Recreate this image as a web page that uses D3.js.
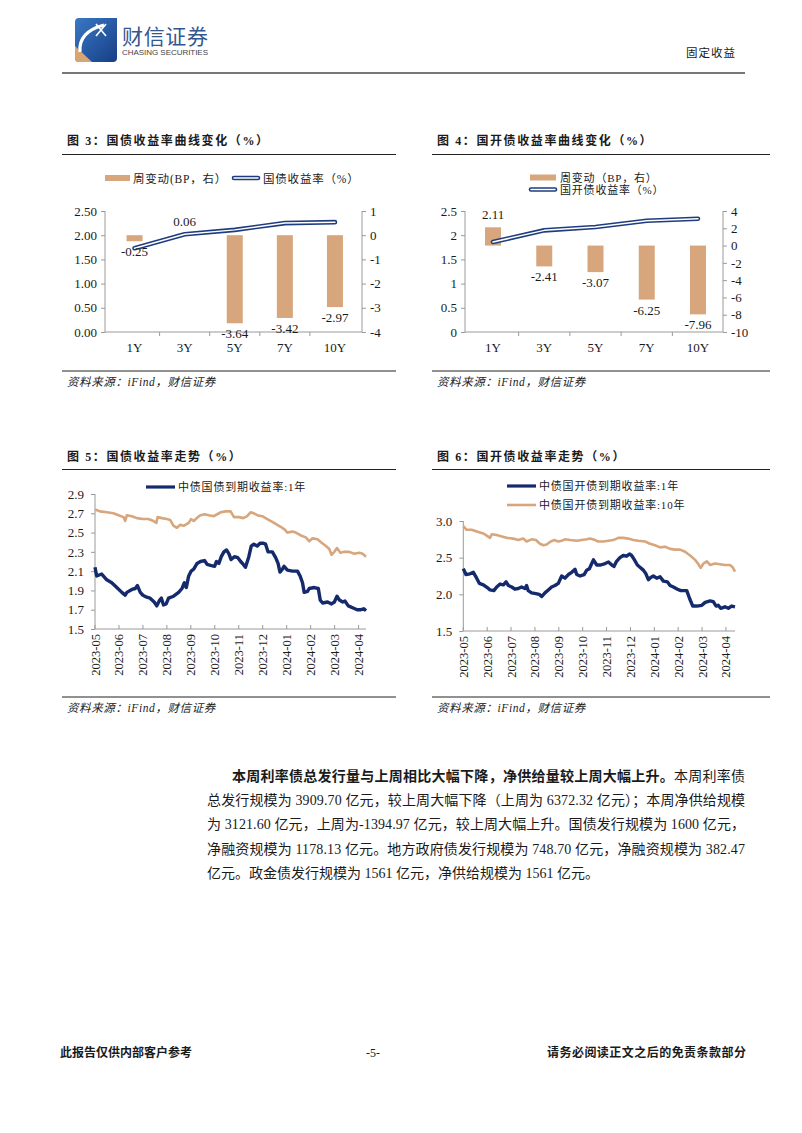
<!DOCTYPE html>
<html><head><meta charset="utf-8">
<script src="https://cdn.jsdelivr.net/npm/d3@7"></script>
<style>
body{margin:0;background:#fff;}
svg text{font-family:'Liberation Serif','Noto Sans CJK SC',serif;fill:#1a1a1a;}
</style></head><body>
<svg id="page" width="802" height="1133"></svg>
<script>
// ---------- data ----------
const curveCats = ["1Y","3Y","5Y","7Y","10Y"];
const govYield  = [1.73, 2.02, 2.11, 2.25, 2.27];
const govChange = [-0.25, 0.06, -3.64, -3.42, -2.97];
const cdbYield  = [1.86, 2.10, 2.17, 2.30, 2.34];
const cdbChange = [2.11, -2.41, -3.07, -6.25, -7.96];

const monthLabels = ["2023-05","2023-06","2023-07","2023-08","2023-09","2023-10","2023-11","2023-12","2024-01","2024-02","2024-03","2024-04"];

// [month position, yield]
const gov1Y = [[0,2.14],[0.07,2.05],[0.28,2.07],[0.49,2.01],[0.70,1.98],[0.91,1.93],[1.12,1.88],[1.26,1.85],[1.33,1.88],[1.54,1.91],[1.68,1.92],[1.77,1.95],[1.89,1.88],[2.00,1.85],[2.16,1.83],[2.30,1.82],[2.47,1.78],[2.58,1.74],[2.70,1.80],[2.77,1.82],[2.86,1.75],[2.97,1.76],[3.07,1.82],[3.28,1.84],[3.49,1.88],[3.63,1.92],[3.73,1.98],[3.81,1.93],[3.91,2.05],[4.01,2.10],[4.12,2.12],[4.26,2.18],[4.40,2.20],[4.57,2.21],[4.68,2.17],[4.82,2.16],[4.99,2.15],[5.07,2.20],[5.17,2.18],[5.27,2.25],[5.38,2.30],[5.49,2.32],[5.59,2.28],[5.68,2.22],[5.82,2.25],[5.96,2.24],[6.08,2.20],[6.19,2.17],[6.28,2.14],[6.42,2.25],[6.52,2.36],[6.63,2.38],[6.77,2.36],[6.89,2.39],[7.03,2.39],[7.12,2.38],[7.22,2.30],[7.40,2.30],[7.54,2.24],[7.64,2.18],[7.72,2.09],[7.82,2.12],[7.89,2.15],[8.03,2.11],[8.24,2.10],[8.45,2.10],[8.56,2.05],[8.66,1.98],[8.73,1.88],[8.87,1.89],[8.94,1.92],[9.15,1.93],[9.32,1.92],[9.40,1.80],[9.50,1.77],[9.71,1.78],[9.87,1.76],[9.99,1.78],[10.10,1.84],[10.20,1.80],[10.34,1.78],[10.43,1.79],[10.57,1.74],[10.75,1.72],[10.94,1.70],[11.10,1.70],[11.22,1.71],[11.31,1.69]];
const gov10Y = [[0,2.74],[0.21,2.72],[0.49,2.71],[0.77,2.70],[0.98,2.68],[1.19,2.66],[1.26,2.62],[1.33,2.68],[1.54,2.67],[1.75,2.65],[2.00,2.64],[2.23,2.64],[2.44,2.62],[2.56,2.60],[2.61,2.66],[2.79,2.65],[3.00,2.64],[3.14,2.63],[3.28,2.57],[3.42,2.55],[3.56,2.58],[3.70,2.57],[3.91,2.60],[4.01,2.64],[4.12,2.62],[4.29,2.66],[4.40,2.68],[4.57,2.69],[4.75,2.68],[4.96,2.67],[5.10,2.69],[5.24,2.71],[5.45,2.72],[5.66,2.72],[5.80,2.66],[6.01,2.66],[6.19,2.65],[6.35,2.67],[6.49,2.71],[6.63,2.70],[6.77,2.68],[6.98,2.67],[7.19,2.64],[7.40,2.61],[7.61,2.58],[7.75,2.56],[7.92,2.53],[8.03,2.50],[8.24,2.51],[8.38,2.50],[8.59,2.47],[8.80,2.45],[8.94,2.41],[9.08,2.44],[9.29,2.43],[9.43,2.40],[9.64,2.36],[9.78,2.33],[9.87,2.27],[9.99,2.30],[10.10,2.34],[10.24,2.29],[10.41,2.30],[10.61,2.30],[10.82,2.28],[11.03,2.29],[11.17,2.28],[11.31,2.25]];
const cdb1Y = [[0,2.35],[0.11,2.27],[0.28,2.28],[0.42,2.30],[0.56,2.22],[0.67,2.15],[0.84,2.13],[1.05,2.08],[1.12,2.06],[1.28,2.05],[1.40,2.10],[1.54,2.14],[1.68,2.13],[1.79,2.17],[1.89,2.12],[2.03,2.10],[2.16,2.07],[2.30,2.08],[2.44,2.10],[2.58,2.08],[2.65,2.12],[2.72,2.05],[2.86,2.02],[3.04,2.01],[3.18,2.00],[3.28,1.97],[3.42,2.02],[3.56,2.06],[3.70,2.10],[3.84,2.12],[3.98,2.15],[4.12,2.25],[4.26,2.22],[4.40,2.27],[4.54,2.30],[4.68,2.34],[4.75,2.27],[4.89,2.25],[5.06,2.27],[5.17,2.33],[5.28,2.35],[5.38,2.42],[5.45,2.47],[5.59,2.40],[5.75,2.40],[5.94,2.42],[6.08,2.44],[6.22,2.40],[6.31,2.38],[6.42,2.45],[6.56,2.50],[6.70,2.53],[6.84,2.52],[6.96,2.55],[7.05,2.53],[7.15,2.48],[7.29,2.40],[7.40,2.37],[7.54,2.33],[7.65,2.28],[7.75,2.20],[7.85,2.23],[7.96,2.25],[8.10,2.22],[8.24,2.24],[8.38,2.18],[8.55,2.17],[8.66,2.12],[8.80,2.10],[8.97,2.07],[9.11,2.05],[9.36,2.05],[9.47,1.95],[9.61,1.84],[9.78,1.84],[9.99,1.85],[10.13,1.89],[10.34,1.91],[10.47,1.90],[10.59,1.84],[10.68,1.85],[10.78,1.81],[10.96,1.83],[11.10,1.81],[11.24,1.84],[11.38,1.83]];
const cdb10Y = [[0,2.93],[0.14,2.88],[0.35,2.88],[0.63,2.85],[0.84,2.83],[0.98,2.80],[1.12,2.77],[1.19,2.82],[1.40,2.81],[1.61,2.79],[1.82,2.77],[2.09,2.76],[2.30,2.74],[2.51,2.76],[2.65,2.72],[2.86,2.75],[3.04,2.74],[3.21,2.69],[3.35,2.67],[3.49,2.68],[3.66,2.72],[3.80,2.74],[3.98,2.72],[4.12,2.73],[4.26,2.75],[4.47,2.74],[4.75,2.73],[4.96,2.74],[5.17,2.75],[5.31,2.76],[5.52,2.74],[5.66,2.72],[5.87,2.72],[6.08,2.73],[6.28,2.74],[6.49,2.77],[6.70,2.77],[6.91,2.76],[7.12,2.74],[7.33,2.73],[7.61,2.72],[7.82,2.69],[8.03,2.67],[8.24,2.64],[8.45,2.65],[8.66,2.62],[8.87,2.61],[9.08,2.61],[9.29,2.58],[9.50,2.53],[9.71,2.47],[9.85,2.41],[9.94,2.36],[10.06,2.42],[10.20,2.45],[10.34,2.40],[10.54,2.42],[10.75,2.41],[10.96,2.40],[11.17,2.40],[11.28,2.37],[11.38,2.31]];

const gov3Ticks = [0,0.5,1,1.5,2,2.5];
const gov3RTicks = [1,0,-1,-2,-3,-4];
const cdb4RTicks = [4,2,0,-2,-4,-6,-8,-10];
const gov5Ticks = [1.5,1.7,1.9,2.1,2.3,2.5,2.7,2.9];
const cdb6Ticks = [1.5,2.0,2.5,3.0];

// ---------- styles ----------
const NAVY = "#142a6c", TAN = "#d7a67c", AX = "#9a9a9a";
const svg = d3.select("#page");
svg.append("rect").attr("width",802).attr("height",1133).attr("fill","#fff");

// ---------- header ----------
const hdr = svg.append("g");
const defs = svg.append("defs");
const lg = defs.append("linearGradient").attr("id","lg").attr("x1",0).attr("y1",0).attr("x2",1).attr("y2",1);
lg.append("stop").attr("offset","0%").attr("stop-color","#3a78c4");
lg.append("stop").attr("offset","100%").attr("stop-color","#163f86");
hdr.append("path").attr("d","M79,18 H117 V58 Q117,62 113,62 H79 Q75,62 75,58 V22 Q75,18 79,18 Z").attr("fill","url(#lg)");
hdr.append("path").attr("d","M75,46 L75,58 Q75,62 79,62 L92,62 Z").attr("fill","#d9a46f");
hdr.append("path").attr("d","M80,52 Q78,32 104,25").attr("fill","none").attr("stroke","#fff").attr("stroke-width",3.2);
hdr.append("path").attr("d","M96,24 L106,36 M106,24 L96,36").attr("stroke","#fff").attr("stroke-width",1.6);
hdr.append("text").attr("x",122).attr("y",44).attr("font-size",21).style("font-family","'Noto Sans CJK SC',sans-serif").style("fill","#34578f").attr("textLength",86).text("财信证券");
hdr.append("text").attr("x",122).attr("y",55).attr("font-size",8).style("font-family","'Liberation Sans',sans-serif").style("fill","#444").attr("textLength",86).text("CHASING SECURITIES");
hdr.append("text").attr("x",686).attr("y",57).attr("font-size",11.5).style("font-family","'Noto Sans CJK SC',sans-serif").attr("letter-spacing",1).text("固定收益");
hdr.append("line").attr("x1",62).attr("x2",745).attr("y1",73).attr("y2",73).attr("stroke","#777").attr("stroke-width",2);

// ---------- helpers ----------
function title(x, y, x1, x2, ly, txt){
  svg.append("text").attr("x",x).attr("y",y).attr("font-size",12).attr("font-weight","bold").attr("letter-spacing",1.6).text(txt);
  svg.append("line").attr("x1",x1).attr("x2",x2).attr("y1",ly).attr("y2",ly).attr("stroke","#222").attr("stroke-width",1.2);
}
function source(x, y, x1, x2, ly){
  svg.append("line").attr("x1",x1).attr("x2",x2).attr("y1",ly).attr("y2",ly).attr("stroke","#222").attr("stroke-width",1);
  svg.append("text").attr("x",x).attr("y",y).attr("font-size",11.5).attr("font-style","italic").attr("letter-spacing",0.6).text("资料来源：iFind，财信证券");
}
function doubleLine(g, d){
  g.append("path").attr("d",d).attr("fill","none").attr("stroke","#1f3d7e").attr("stroke-width",4.6).attr("stroke-linecap","round").attr("stroke-linejoin","round");
  g.append("path").attr("d",d).attr("fill","none").attr("stroke","#fff").attr("stroke-width",1.5).attr("stroke-linecap","round").attr("stroke-linejoin","round");
}
function styleAxis(g){
  g.selectAll("path,line").attr("stroke",AX);
  g.selectAll("text").attr("font-size",13).style("fill","#1a1a1a");
}

function curveChart(o){
  const g = svg.append("g");
  const yTop = 211, yBot = 332;
  const x = d3.scaleBand().domain(curveCats).range([o.bx0, o.bx1]);
  const yL = d3.scaleLinear().domain([0,2.5]).range([yBot,yTop]);
  const yR = d3.scaleLinear().domain(o.rDomain).range([yBot,yTop]);
  const bw = 16;
  g.selectAll("rect.bar").data(o.change).enter().append("rect")
    .attr("x",(d,i)=>x(curveCats[i])+x.bandwidth()/2-bw/2)
    .attr("y",d=>Math.min(yR(0),yR(d)))
    .attr("width",bw).attr("height",d=>Math.abs(yR(d)-yR(0)))
    .attr("fill",TAN);
  const la = g.append("g").attr("transform",`translate(${o.ax0},0)`)
    .call(d3.axisLeft(yL).tickValues(gov3Ticks).tickFormat(o.lFmt).tickSize(4).tickSizeOuter(0).tickPadding(4));
  styleAxis(la); la.select(".domain").remove();
  la.append("line").attr("y1",yTop).attr("y2",yBot).attr("stroke",AX);
  const ra = g.append("g").attr("transform",`translate(${o.ax1},0)`)
    .call(d3.axisRight(yR).tickValues(o.rTicks).tickFormat(d=>String(d)).tickSize(4).tickSizeOuter(0).tickPadding(4));
  styleAxis(ra); ra.select(".domain").remove();
  ra.append("line").attr("y1",yTop).attr("y2",yBot).attr("stroke",AX);
  g.append("line").attr("x1",o.ax0).attr("x2",o.ax1).attr("y1",yBot).attr("y2",yBot).attr("stroke",AX);
  curveCats.slice(1).forEach(c=>{
    g.append("line").attr("x1",x(c)).attr("x2",x(c)).attr("y1",yBot).attr("y2",yBot+4).attr("stroke",AX);
  });
  g.selectAll("text.cat").data(curveCats).enter().append("text")
    .attr("x",d=>x(d)+x.bandwidth()/2).attr("y",yBot+20).attr("text-anchor","middle").attr("font-size",13).text(d=>d);
  const line = d3.line().x((d,i)=>x(curveCats[i])+x.bandwidth()/2).y(d=>yL(d));
  doubleLine(g, line(o.yields));
  g.selectAll("text.lab").data(o.change).enter().append("text")
    .attr("x",(d,i)=>x(curveCats[i])+x.bandwidth()/2)
    .attr("y",d=> d<0 ? yR(d)+15 : yR(d)-8)
    .attr("text-anchor","middle").attr("font-size",13).text(d=>d.toFixed(2));
  return g;
}

// ---------- chart 3 ----------
title(67,145,62,396,154.5,"图 3：国债收益率曲线变化（%）");
curveChart({bx0:109.5,bx1:360,ax0:105,ax1:362,rDomain:[-4,1],rTicks:gov3RTicks,lFmt:d3.format(".2f"),change:govChange,yields:govYield});
svg.append("rect").attr("x",105).attr("y",175).attr("width",25).attr("height",6).attr("fill",TAN);
svg.append("text").attr("x",133).attr("y",183).attr("font-size",11.5).attr("letter-spacing",0.8).text("周变动(BP，右）");
doubleLine(svg.append("g"),"M234,178 H258");
svg.append("text").attr("x",263).attr("y",183).attr("font-size",11.5).attr("letter-spacing",0.8).text("国债收益率（%）");
source(67,386,62,396,371);

// ---------- chart 4 ----------
title(437,145,432,770,154.5,"图 4：国开债收益率曲线变化（%）");
curveChart({bx0:467.4,bx1:723.6,ax0:465,ax1:723,rDomain:[-10,4],rTicks:cdb4RTicks,lFmt:d=>String(d),change:cdbChange,yields:cdbYield});
svg.append("rect").attr("x",530).attr("y",174.5).attr("width",26).attr("height",6).attr("fill",TAN);
svg.append("text").attr("x",560).attr("y",181.5).attr("font-size",11).attr("letter-spacing",0.8).text("周变动（BP，右）");
doubleLine(svg.append("g"),"M531,189.5 H555");
svg.append("text").attr("x",560).attr("y",194).attr("font-size",11).attr("letter-spacing",0.8).text("国开债收益率（%）");
source(437,386,432,770,371);

// ---------- line charts ----------
function trendChart(o){
  const g = svg.append("g");
  const x = d3.scaleLinear().domain([0,o.xEnd]).range([o.x0,o.x1]);
  const y = d3.scaleLinear().domain(o.yDomain).range([o.yBot,o.yTop]);
  const ya = g.append("g").attr("transform",`translate(${o.x0},0)`)
    .call(d3.axisLeft(y).tickValues(o.yTicks).tickFormat(d3.format(".1f")).tickSize(4).tickSizeOuter(0).tickPadding(7));
  styleAxis(ya); ya.select(".domain").remove();
  ya.append("line").attr("y1",o.yTop).attr("y2",o.yBot).attr("stroke",AX);
  g.append("line").attr("x1",o.x0).attr("x2",o.x1).attr("y1",o.yBot).attr("y2",o.yBot).attr("stroke",AX);
  monthLabels.forEach((m,i)=>{
    g.append("line").attr("x1",x(i)).attr("x2",x(i)).attr("y1",o.yBot).attr("y2",o.yBot-4).attr("stroke",AX);
    g.append("text").attr("transform",`translate(${x(i)+4.5},${o.yBot+5}) rotate(-90)`)
      .attr("text-anchor","end").attr("font-size",12.5).text(m);
  });
  const line = d3.line().x(d=>x(d[0])).y(d=>y(d[1]));
  g.append("path").attr("d",line(o.s10)).attr("fill","none").attr("stroke",TAN).attr("stroke-width",2.6).attr("stroke-linejoin","round");
  g.append("path").attr("d",line(o.s1)).attr("fill","none").attr("stroke",NAVY).attr("stroke-width",3.4).attr("stroke-linejoin","round");
}

// chart 5
title(67,461,62,396,469.5,"图 5：国债收益率走势（%）");
trendChart({x0:95,x1:366,xEnd:11.31,yDomain:[1.5,2.9],yBot:629,yTop:494,yTicks:gov5Ticks,s1:gov1Y,s10:gov10Y});
svg.append("line").attr("x1",146).attr("x2",175).attr("y1",487).attr("y2",487).attr("stroke",NAVY).attr("stroke-width",3.2);
svg.append("text").attr("x",178).attr("y",491).attr("font-size",11).attr("letter-spacing",0.8).text("中债国债到期收益率:1年");
source(67,712,62,396,697);

// chart 6
title(437,461,432,770,469.5,"图 6：国开债收益率走势（%）");
trendChart({x0:463.3,x1:735,xEnd:11.38,yDomain:[1.5,3.0],yBot:631,yTop:521,yTicks:cdb6Ticks,s1:cdb1Y,s10:cdb10Y});
svg.append("line").attr("x1",507).attr("x2",536).attr("y1",486).attr("y2",486).attr("stroke",NAVY).attr("stroke-width",3.2);
svg.append("text").attr("x",539).attr("y",490).attr("font-size",11).attr("letter-spacing",0.8).text("中债国开债到期收益率:1年");
svg.append("line").attr("x1",507).attr("x2",536).attr("y1",505).attr("y2",505).attr("stroke",TAN).attr("stroke-width",2.6);
svg.append("text").attr("x",539).attr("y",509).attr("font-size",11).attr("letter-spacing",0.8).text("中债国开债到期收益率:10年");
source(437,712,432,770,697);

// ---------- paragraph ----------
const paraBold = "本周利率债总发行量与上周相比大幅下降，净供给量较上周大幅上升。";
const paraLines = [
  "本周利率债",
  "总发行规模为 3909.70 亿元，较上周大幅下降（上周为 6372.32 亿元）；本周净供给规模",
  "为 3121.60 亿元，上周为-1394.97 亿元，较上周大幅上升。国债发行规模为 1600 亿元，",
  "净融资规模为 1178.13 亿元。地方政府债发行规模为 748.70 亿元，净融资规模为 382.47",
  "亿元。政金债发行规模为 1561 亿元，净供给规模为 1561 亿元。"
];
const t1 = svg.append("text").attr("x",232).attr("y",781).attr("font-size",14)
  .attr("textLength",513).attr("lengthAdjust","spacing");
t1.append("tspan").attr("font-weight","bold").text(paraBold);
t1.append("tspan").text(paraLines[0]);
paraLines.slice(1).forEach((l,i)=>{
  const t = svg.append("text").attr("x",207).attr("y",805+i*24.3).attr("font-size",14).text(l);
  if(i<3) t.attr("textLength",538).attr("lengthAdjust","spacing");
});

// ---------- footer ----------
svg.append("text").attr("x",60).attr("y",1057).attr("font-size",12).attr("font-weight","bold").attr("textLength",132).text("此报告仅供内部客户参考");
svg.append("text").attr("x",366).attr("y",1057).attr("font-size",12).text("-5-");
svg.append("text").attr("x",547).attr("y",1057).attr("font-size",12).attr("font-weight","bold").attr("textLength",199).text("请务必阅读正文之后的免责条款部分");
</script>
</body></html>
